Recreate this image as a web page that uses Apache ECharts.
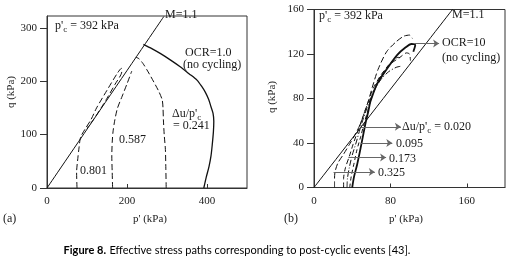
<!DOCTYPE html>
<html>
<head>
<meta charset="utf-8">
<script src="https://cdn.jsdelivr.net/npm/echarts@6/dist/echarts.min.js"></script>
<style>
html, body { margin: 0; padding: 0; background: #fff; }
#chart { width: 508px; height: 271px; }
</style>
</head>
<body>
<div id="chart"></div>
<script>
// panel (a), OCR = 1.0  -- points are [p' (kPa), q (kPa)]
let ticksAx = [0, 200, 400]
let ticksAy = [0, 100, 200, 300]
let mLineA = [[0, 0], [292, 321]]
let ocr1 = [[392, 0], [398, 20], [405, 40], [410, 60], [413, 80], [416, 105], [417, 125], [415, 140], [410, 152],
    [404, 166], [396, 179], [386, 191], [375, 202], [355, 214], [333, 227], [310, 239], [283, 252], [262, 261], [241, 269]]
let du241 = [[298, 0], [297, 40], [296, 72], [293, 100], [291, 128], [290, 150], [288, 165], [280, 180], [271, 193],
    [260, 208], [250, 221], [240, 233], [230, 242], [222, 245]]
let du587 = [[164, 0], [163, 30], [162, 60], [163, 85], [165, 105], [169, 125], [176, 149], [188, 172], [200, 195], [212, 219]]
let du801 = [[75, 0], [74, 30], [77, 55], [80, 75], [84, 95], [95, 110], [110, 128], [124, 150], [150, 183], [176, 215],
    [186, 224], [187, 218], [170, 194], [150, 168], [137, 152], [118, 130], [100, 112]]

// panel (b), OCR = 10
let ticksBx = [0, 80, 160]
let ticksBy = [0, 40, 80, 120, 160]
let mLineB = [[0, 0], [145, 160]]
let ocr10 = [[40, 0], [42, 10], [45, 20], [48, 32], [51, 45], [54, 58], [57, 69], [59, 77], [66, 93], [75, 105],
    [87, 119], [96, 126], [102, 129], [106, 128], [104, 122]]
let du325 = [[21.5, 0], [21.5, 8], [22, 14], [25, 22], [31, 30], [38, 40], [44, 49], [49, 58], [53, 68], [57, 78],
    [61, 90], [67, 106], [76, 122], [86, 131], [94, 136], [100, 137], [103, 134]]
let du173 = [[31, 0], [31, 8], [33, 18], [37, 28], [41, 39], [46, 51], [51, 63], [56, 75], [62, 89], [70, 101],
    [80, 111], [90, 117], [97, 121], [100, 120], [101, 114]]
let du095 = [[34.6, 0], [35, 8], [37, 18], [40, 29], [44, 40], [48, 52], [52, 63], [57, 75], [63, 87], [70, 97],
    [78, 104], [86, 108], [91, 109]]
let du020 = [[37.4, 0], [39, 10], [42, 22], [45, 34], [49, 46], [52, 56], [56, 68], [60, 80], [65, 92], [72, 103],
    [80, 112], [88, 117], [93, 116]]
// arrows in (b): [p' from, p' to, q]
let arrowsB = [[105, 131, 129.5], [49, 91, 54.5], [49, 82, 40], [36, 75.5, 27], [20.5, 63.7, 14]]

let serif = "'Liberation Serif', 'DejaVu Serif', serif"
let ink = '#1a1a1a'

function axis(gridIndex, max, ticks, isX) {
    return {
        type: 'value', gridIndex: gridIndex, min: 0, max: max,
        axisLine: { show: true, onZero: false, lineStyle: { color: '#333', width: 1 } },
        axisTick: { show: true, inside: isX, length: isX ? 4 : 7, customValues: ticks, lineStyle: { color: '#333' } },
        axisLabel: { customValues: ticks, margin: isX ? 8 : 10, color: ink, fontFamily: serif, fontSize: 11 },
        splitLine: { show: false }
    }
}

function path(data, gi, width, dash) {
    return {
        type: 'line', xAxisIndex: gi, yAxisIndex: gi, data: data,
        symbol: 'none', smooth: 0.25, silent: true, animation: false, z: 3,
        lineStyle: { color: '#111', width: width, type: dash }
    }
}

function txt(x, y, text, extra) {
    let el = {
        type: 'text', x: x, y: y, silent: true, z: 10,
        style: { text: text, font: '12px ' + serif, fill: ink, textAlign: 'left', textVerticalAlign: 'middle' }
    }
    return Object.assign(el, extra || {})
}

// p'c with subscript
let subRich = {
    p: { fontFamily: serif, fontSize: 12, lineHeight: 16, color: ink },
    c: { fontFamily: serif, fontSize: 9, lineHeight: 9, verticalAlign: 'bottom', color: ink }
}
function subTxt(x, y, text) {
    return {
        type: 'text', x: x, y: y, silent: true, z: 10,
        style: { text: text, rich: subRich, fill: ink, textAlign: 'left', textVerticalAlign: 'middle' }
    }
}

let chart = echarts.init(document.getElementById('chart'), null, { renderer: 'canvas' })

let markArrows = arrowsB.map(function (a) {
    return [{ coord: [a[0], a[2]] }, { coord: [a[1], a[2]] }]
})

let option = {
    backgroundColor: '#fff',
    animation: false,
    grid: [
        { left: 47, top: 16, width: 200, height: 172, show: true, borderColor: '#333', borderWidth: 1 },
        { left: 314, top: 9.5, width: 191, height: 178, show: true, borderColor: '#333', borderWidth: 1 }
    ],
    xAxis: [axis(0, 500, ticksAx, true), axis(1, 200, ticksBx, true)],
    yAxis: [axis(0, 322, ticksAy, false), axis(1, 160, ticksBy, false)],
    series: [
        path(mLineA, 0, 1, 'solid'),
        path(ocr1, 0, 1.3, 'solid'),
        path(du241, 0, 1, [6, 3]),
        path(du587, 0, 1, [6, 3]),
        path(du801, 0, 1, [6, 3]),
        path(mLineB, 1, 1, 'solid'),
        path(du325, 1, 1, [6, 3]),
        path(du173, 1, 1, [5, 3]),
        path(du095, 1, 1, [6, 2, 1, 2]),
        path(du020, 1, 1, [4, 3]),
        Object.assign(path(ocr10, 1, 1.8, 'solid'), {
            markLine: {
                silent: true, animation: false, symbol: ['none', 'arrow'], symbolSize: 6,
                label: { show: false },
                lineStyle: { color: '#666', width: 1, type: 'solid' },
                data: markArrows
            }
        })
    ],
    graphic: [
        // panel (a)
        subTxt(55, 26, "{p|p'}{c|c}{p| = 392 kPa}"),
        txt(165, 15, 'M=1.1'),
        txt(185, 53, 'OCR=1.0'),
        txt(183, 65, '(no cycling)'),
        subTxt(172, 114, "{p|Δu/p'}{c|c}"),
        txt(173, 126, '= 0.241'),
        txt(119, 140, '0.587'),
        txt(80, 171, '0.801'),
        txt(3, 219, '(a)'),
        txt(150, 219, "p' (kPa)", { style: { text: "p' (kPa)", font: '11px ' + serif, fill: ink, textAlign: 'center', textVerticalAlign: 'middle' } }),
        txt(11, 92, 'q (kPa)', { rotation: Math.PI / 2, style: { text: 'q (kPa)', font: '11px ' + serif, fill: ink, textAlign: 'center', textVerticalAlign: 'middle' } }),
        // panel (b)
        subTxt(319, 16, "{p|p'}{c|c}{p| = 392 kPa}"),
        txt(452, 15, 'M=1.1'),
        txt(442, 43, 'OCR=10'),
        txt(442, 58, '(no cycling)'),
        subTxt(402, 127, "{p|Δu/p'}{c|c}{p| = 0.020}"),
        txt(396, 144, '0.095'),
        txt(389, 159, '0.173'),
        txt(378, 173, '0.325'),
        txt(284, 219, '(b)'),
        txt(406, 219, "p' (kPa)", { style: { text: "p' (kPa)", font: '11px ' + serif, fill: ink, textAlign: 'center', textVerticalAlign: 'middle' } }),
        txt(272, 97, 'q (kPa)', { rotation: Math.PI / 2, style: { text: 'q (kPa)', font: '11px ' + serif, fill: ink, textAlign: 'center', textVerticalAlign: 'middle' } }),
        // caption
        {
            type: 'text', x: 237, y: 250, silent: true,
            style: {
                text: '{b|Figure 8.} {r|Effective stress paths corresponding to post-cyclic events [43].}',
                textAlign: 'center', textVerticalAlign: 'middle',
                rich: {
                    b: { fontFamily: 'Lato', fontSize: 11, fontWeight: 'bold', color: '#222' },
                    r: { fontFamily: 'Lato', fontSize: 11, color: '#333' }
                }
            }
        }
    ]
}
chart.setOption(option)
</script>
</body>
</html>
